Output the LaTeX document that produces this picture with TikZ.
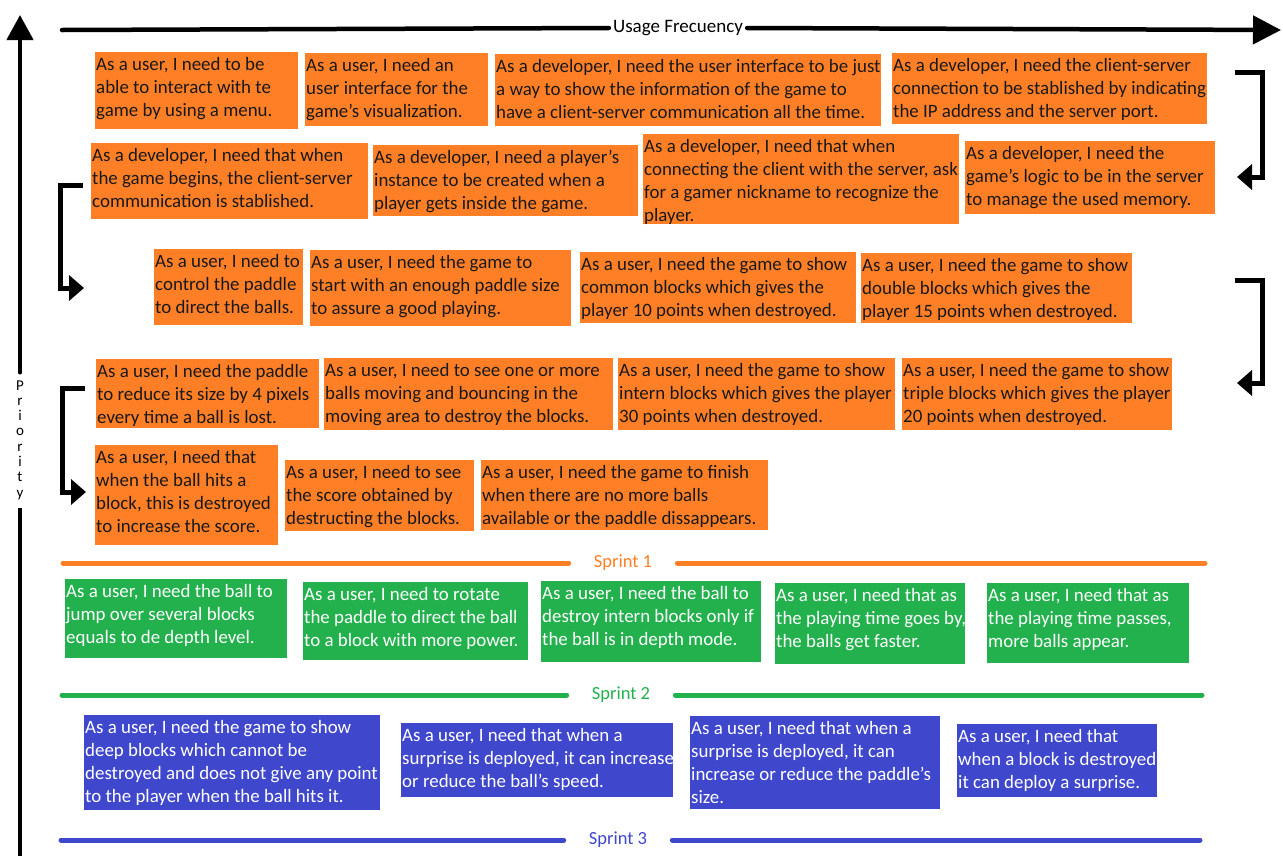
\documentclass[tikz,border=0pt]{standalone}
\usepackage{fontspec}
\setmainfont{Carlito}
\usetikzlibrary{arrows.meta}
\definecolor{storyorange}{HTML}{FF7F27}
\definecolor{storygreen}{HTML}{22B14C}
\definecolor{storyblue}{HTML}{3F48CC}
% name, x, y, width, height, style, lines
\newcommand\story[7]{%
  \node[#6, anchor=north west, inner xsep=1pt, inner ysep=0pt] (#1) at (#2,#3)
  {\parbox[t][#5pt][t]{\dimexpr#4pt-2pt\relax}{\rule{0pt}{18pt}\begin{tabular}[t]{@{}l@{}}#7\end{tabular}}};}
\begin{document}
\begin{tikzpicture}[x=1pt,y=-1pt,line join=miter,
  storyfont/.style={font=\fontsize{18.9}{23}\selectfont},
  orangebox/.style={storyfont, fill=storyorange, text=black!90},
  greenbox/.style={storyfont, fill=storygreen, text=white},
  bluebox/.style={storyfont, fill=storyblue, text=white},
  axisline/.style={line width=4.5pt, line cap=round},
  elbow/.style={line width=5pt, -{Triangle[width=25pt,length=15pt]}},
  sprintline/.style={line width=5pt, line cap=round},
  sprintlabel/.style={font=\fontsize{18.5}{21}\selectfont, inner xsep=25pt, inner ysep=2pt}]
\useasboundingbox (0,0) rectangle (1283,855);

% axes
\coordinate (ustart) at (62,30);
\coordinate (uend) at (1281,30);
\node[font=\fontsize{19}{21}\selectfont, inner xsep=4pt] (usage) at (678,28) {Usage Frecuency};
\draw[axisline] (ustart) -- (usage.west);
\draw[axisline, -{Triangle[width=28pt,length=28pt]}] (usage.east) -- (uend);

\coordinate (pbottom) at (20,860);
\coordinate (ptop) at (20,15);
\node[font=\fontsize{15}{15.3}\selectfont, align=center, inner sep=0pt, minimum height=135pt] (prio) at (20,440) {P\\r\\i\\o\\r\\i\\t\\y};
\draw[line width=4.5pt] (pbottom) -- (prio.south);
\draw[axisline, -{Triangle[width=26pt,length=25pt]}] (prio.north) -- (ptop);

% orange stories
\story{b1}{95}{52}{203}{77}{orangebox}{As a user, I need to be\\able to interact with te\\game by using a menu.}
\story{b2}{305}{53}{183}{73}{orangebox}{As a user, I need an\\user interface for the\\game's visualization.}
\story{b3}{495}{54}{386}{72}{orangebox}{As a developer, I need the user interface to be just\\a way to show the information of the game to\\have a client-server communication all the time.}
\story{b4}{892}{53}{315}{71}{orangebox}{As a developer, I need the client-server\\connection to be stablished by indicating\\the IP address and the server port.}
\story{b5}{91}{143}{277}{76}{orangebox}{As a developer, I need that when\\the game begins, the client-server\\communication is stablished.}
\story{b6}{373}{145}{265}{71}{orangebox}{As a developer, I need a player’s\\instance to be created when a\\player gets inside the game.}
\story{b7}{643}{134}{316}{90}{orangebox}{As a developer, I need that when\\connecting the client with the server, ask\\for a gamer nickname to recognize the\\player.}
\story{b8}{965}{141}{250}{73}{orangebox}{As a developer, I need the\\game’s logic to be in the server\\to manage the used memory.}
\story{b9}{154}{249}{149}{76}{orangebox}{As a user, I need to\\control the paddle\\to direct the balls.}
\story{b10}{310}{250}{261}{76}{orangebox}{As a user, I need the game to\\start with an enough paddle size\\to assure a good playing.}
\story{b11}{580}{252}{276}{71}{orangebox}{As a user, I need the game to show\\common blocks which gives the\\player 10 points when destroyed.}
\story{b12}{861}{253}{271}{70}{orangebox}{As a user, I need the game to show\\double blocks which gives the\\player 15 points when destroyed.}
\story{b13}{96}{359}{223}{69}{orangebox}{As a user, I need the paddle\\to reduce its size by 4 pixels\\every time a ball is lost.}
\story{b14}{324}{358}{289}{72}{orangebox}{As a user, I need to see one or more\\balls moving and bouncing in the\\moving area to destroy the blocks.}
\story{b15}{618}{358}{277}{72}{orangebox}{As a user, I need the game to show\\intern blocks which gives the player\\30 points when destroyed.}
\story{b16}{902}{358}{270}{72}{orangebox}{As a user, I need the game to show\\triple blocks which gives the player\\20 points when destroyed.}
\story{b17}{95}{445}{183}{100}{orangebox}{As a user, I need that\\when the ball hits a\\block, this is destroyed\\to increase the score.}
\story{b18}{285}{460}{189}{71}{orangebox}{As a user, I need to see\\the score obtained by\\destructing the blocks.}
\story{b19}{481}{460}{287}{70}{orangebox}{As a user, I need the game to finish\\when there are no more balls\\available or the paddle dissappears.}

% flow arrows
\coordinate (r1a) at (1235,72);  \coordinate (r1b) at (1237,177);
\coordinate (l1a) at (83,185);   \coordinate (l1b) at (84,288);
\coordinate (r2a) at (1235,280); \coordinate (r2b) at (1237,383);
\coordinate (l2a) at (85,388);   \coordinate (l2b) at (86,492);
\draw[elbow] (r1a) -- (1262,72) |- (r1b);
\draw[elbow] (l1a) -- (60,185) |- (l1b);
\draw[elbow] (r2a) -- (1262,280) |- (r2b);
\draw[elbow] (l2a) -- (62,388) |- (l2b);

% sprint 1
\node[sprintlabel, text=storyorange] (sp1) at (623,563) {Sprint 1};
\coordinate (s1l) at (63,563); \coordinate (s1r) at (1205,563);
\draw[sprintline, storyorange] (s1l) -- (sp1.west);
\draw[sprintline, storyorange] (sp1.east) -- (s1r);

% green stories
\story{g1}{65}{579}{222}{79}{greenbox}{As a user, I need the ball to\\jump over several blocks\\equals to de depth level.}
\story{g2}{303}{582}{225}{78}{greenbox}{As a user, I need to rotate\\the paddle to direct the ball\\to a block with more power.}
\story{g3}{541}{581}{220}{81}{greenbox}{As a user, I need the ball to\\destroy intern blocks only if\\the ball is in depth mode.}
\story{g4}{775}{583}{190}{81}{greenbox}{As a user, I need that as\\the playing time goes by,\\the balls get faster.}
\story{g5}{987}{583}{202}{80}{greenbox}{As a user, I need that as\\the playing time passes,\\more balls appear.}

% sprint 2
\node[sprintlabel, text=storygreen] (sp2) at (621,695) {Sprint 2};
\coordinate (s2l) at (62,695); \coordinate (s2r) at (1202,695);
\draw[sprintline, storygreen] (s2l) -- (sp2.west);
\draw[sprintline, storygreen] (sp2.east) -- (s2r);

% blue stories
\story{p1}{84}{715}{296}{95}{bluebox}{As a user, I need the game to show\\deep blocks which cannot be\\destroyed and does not give any point\\to the player when the ball hits it.}
\story{p2}{401}{723}{272}{74}{bluebox}{As a user, I need that when a\\surprise is deployed, it can increase\\or reduce the ball’s speed.}
\story{p3}{690}{716}{250}{93}{bluebox}{As a user, I need that when a\\surprise is deployed, it can\\increase or reduce the paddle’s\\size.}
\story{p4}{957}{724}{200}{73}{bluebox}{As a user, I need that\\when a block is destroyed\\it can deploy a surprise.}

% sprint 3
\node[sprintlabel, text=storyblue] (sp3) at (618,840) {Sprint 3};
\coordinate (s3l) at (61,840); \coordinate (s3r) at (1200,840);
\draw[sprintline, storyblue] (s3l) -- (sp3.west);
\draw[sprintline, storyblue] (sp3.east) -- (s3r);
\end{tikzpicture}
\end{document}
